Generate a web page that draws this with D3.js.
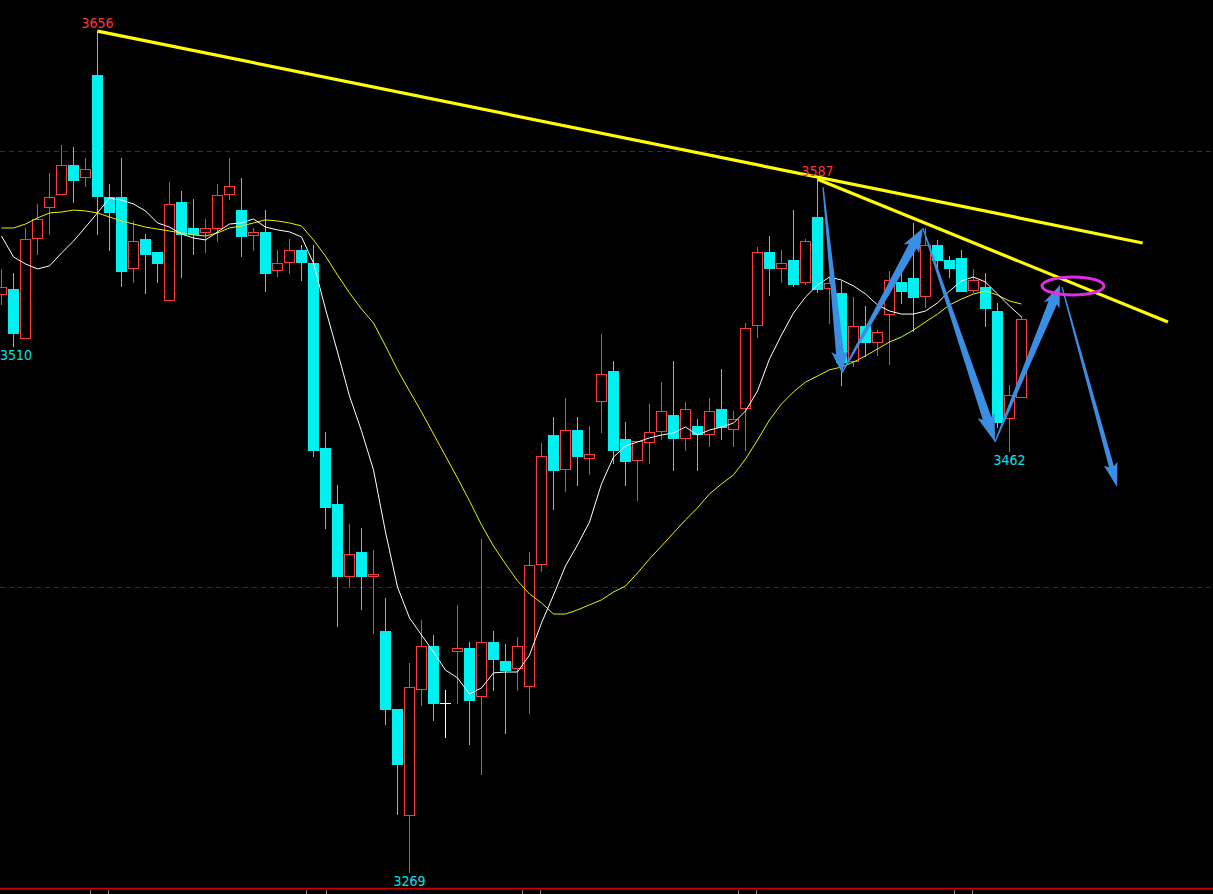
<!DOCTYPE html>
<html>
<head>
<meta charset="utf-8">
<script src="https://cdn.jsdelivr.net/npm/d3@7/dist/d3.min.js"></script>
<style>
  html, body { margin: 0; padding: 0; background: #000; overflow: hidden; }
  svg { display: block; }
</style>
</head>
<body>
<svg id="chart" width="1213" height="894"></svg>
<script>
// ---------------- DATA ----------------
const opens = [3533.9,3536.7,3513.8,3559.6,3573.9,3579.8,3593.6,3587.6,3634.9,3578.9,
  3578.9,3545.9,3559.6,3553.7,3531.2,3576.6,3564.7,3562.4,3564.2,3579.8,
  3572.9,3561.0,3562.9,3545.0,3548.6,3554.6,3548.6,3463.8,3438.1,3404.6,
  3416.1,3404.6,3379.8,3344.1,3295.0,3352.8,3373.0,3346.8,3370.2,3372.0,
  3349.6,3374.8,3366.1,3362.4,3354.1,3410.1,3469.7,3453.7,3472.0,3458.7,
  3484.9,3499.1,3467.9,3457.8,3466.1,3471.1,3478.9,3467.9,3473.9,3469.7,
  3481.7,3472.0,3481.7,3519.7,3553.7,3545.9,3550.0,3539.5,3569.7,3536.7,
  3534.9,3503.2,3519.7,3511.9,3524.8,3539.9,3541.8,3533.0,3556.9,3550.0,
  3550.9,3535.8,3537.6,3526.6,3477.1,3486.7];
const highs = [3545.9,3544.0,3564.7,3575.7,3589.9,3602.8,3601.8,3596.8,3655.0,3584.9,
  3596.8,3567.9,3561.9,3553.7,3585.8,3581.7,3578.0,3568.8,3584.9,3596.8,
  3587.6,3564.7,3572.9,3554.6,3559.6,3556.9,3556.9,3471.1,3446.8,3428.9,
  3427.1,3417.0,3395.0,3344.1,3365.2,3384.9,3378.0,3352.8,3391.8,3374.8,
  3422.0,3379.8,3373.9,3377.1,3416.1,3466.1,3478.0,3486.7,3478.0,3473.9,
  3516.1,3503.7,3475.7,3467.0,3484.0,3494.0,3503.7,3484.9,3477.1,3486.7,
  3500.0,3480.7,3521.1,3556.0,3561.0,3554.6,3572.9,3559.6,3587.0,3542.2,
  3540.4,3533.0,3528.9,3517.9,3545.0,3545.0,3567.0,3564.7,3559.2,3551.8,
  3554.6,3545.9,3544.0,3530.3,3492.7,3524.3];
const lows = [3529.4,3510.0,3513.8,3552.3,3561.5,3579.8,3576.2,3583.5,3561.5,3554.1,
  3537.6,3539.5,3534.4,3539.5,3531.2,3541.8,3552.3,3553.2,3558.3,3577.5,
  3551.4,3554.1,3535.3,3542.2,3543.6,3540.4,3459.6,3426.6,3381.7,3399.6,
  3389.5,3378.5,3336.7,3295.4,3269.0,3345.4,3338.6,3330.8,3346.4,3327.5,
  3313.8,3352.3,3332.6,3352.3,3341.8,3406.9,3435.3,3443.6,3446.3,3451.4,
  3470.7,3456.4,3446.3,3439.5,3456.4,3467.4,3453.2,3462.4,3453.2,3464.2,
  3467.4,3464.2,3462.4,3514.2,3533.5,3539.5,3537.6,3538.5,3534.9,3520.6,
  3492.2,3500.9,3505.5,3506.0,3501.8,3529.8,3517.0,3528.0,3545.4,3541.8,
  3535.3,3534.9,3519.3,3473.0,3462.0,3486.7];
const closes = [3537.6,3516.1,3559.6,3568.8,3578.9,3593.6,3586.2,3591.7,3578.9,3571.6,
  3544.5,3558.7,3552.3,3548.2,3575.7,3561.5,3561.5,3564.7,3579.8,3584.0,
  3560.6,3562.9,3543.6,3548.6,3554.6,3548.6,3462.4,3436.3,3404.6,3415.2,
  3404.6,3406.0,3343.6,3318.4,3354.1,3373.0,3346.4,3346.8,3372.0,3347.7,
  3374.8,3366.5,3361.5,3373.0,3410.1,3460.1,3453.2,3472.0,3459.6,3461.0,
  3497.7,3462.4,3457.4,3467.0,3471.1,3480.7,3467.9,3481.7,3469.7,3480.7,
  3473.0,3477.1,3518.8,3553.7,3545.9,3548.6,3538.5,3558.7,3536.2,3539.5,
  3502.8,3519.7,3511.9,3517.0,3540.8,3535.3,3532.6,3556.9,3549.6,3545.9,
  3535.3,3540.8,3527.5,3475.2,3488.1,3522.9];
// fast moving average (white) and slow moving average (yellow)
const maFast = [3561.0,3551.4,3548.2,3545.9,3547.3,3553.2,3558.7,3565.1,3571.6,3578.4,
  3577.5,3575.7,3572.5,3567.0,3565.1,3561.9,3560.1,3559.2,3562.9,3566.5,
  3567.0,3568.8,3565.1,3563.8,3562.9,3560.6,3548.6,3527.5,3507.8,3487.6,
  3471.6,3453.7,3425.2,3400.0,3385.8,3378.0,3370.2,3361.9,3358.3,3350.9,
  3353.7,3360.6,3361.0,3361.0,3368.8,3383.5,3396.3,3409.7,3419.3,3429.8,
  3447.3,3459.6,3464.7,3466.5,3468.4,3469.7,3470.7,3473.4,3469.7,3472.0,
  3473.4,3475.2,3480.7,3489.9,3504.6,3515.6,3525.7,3533.0,3538.5,3542.2,
  3540.8,3538.1,3534.4,3529.4,3526.6,3525.2,3525.2,3526.6,3530.3,3535.8,
  3540.4,3542.2,3539.9,3534.4,3528.9,3523.9];
const maSlow = [3564.7,3564.7,3566.5,3569.3,3571.6,3572.0,3572.9,3572.5,3571.6,3569.7,
  3567.9,3566.5,3565.1,3564.2,3563.3,3562.4,3561.5,3561.0,3562.4,3564.7,
  3565.6,3567.0,3568.4,3567.9,3567.0,3565.6,3559.2,3551.8,3543.1,3534.9,
  3527.5,3521.1,3510.6,3499.6,3489.9,3480.3,3470.2,3460.1,3450.0,3439.5,
  3428.5,3418.8,3410.6,3402.8,3396.8,3392.7,3387.6,3387.6,3389.5,3391.8,
  3394.1,3397.7,3400.5,3406.4,3412.9,3418.8,3424.8,3430.8,3436.3,3442.7,
  3447.3,3451.4,3458.7,3467.4,3476.6,3484.0,3489.5,3494.0,3496.8,3499.6,
  3500.9,3503.2,3506.0,3509.2,3512.4,3514.7,3517.9,3521.6,3525.2,3529.4,
  3532.1,3534.4,3535.8,3533.9,3531.2,3529.8];
// price grid levels
const gridLevels = [3600, 3400];
// extreme-value labels: [candle index, price, which side]
const labelIdx = [8, 68, 1, 34, 84];
const labelVal = [3656, 3587, 3510, 3269, 3462];
const labelPos = ["above", "above", "below", "below", "below"];
// trend lines: start and end [index, price]
const trendStart = [[8, 3655.0], [68, 3587.0]];
const trendEnd   = [[95.1, 3557.8], [97.2, 3521.6]];
// arrows: tail and tip [index, price]
const arrowTail = [[68.46, 3583.5], [70.04, 3498.2], [76.79, 3564.7], [82.79, 3466.5], [88.38, 3537.6]];
const arrowTip  = [[70.04, 3498.2], [76.79, 3564.7], [82.79, 3466.5], [88.21, 3538.5], [92.96, 3445.9]];
// highlighted spot (ellipse centre) [index, price]
const circleAt = [89.29, 3538.1];
// time-axis tick positions (candle index)
const timeTicks = [7.4, 8.9, 25.4, 27.0, 43.4, 44.9, 61.4, 62.9, 79.4, 80.9];

// ---------------- STYLES ----------------
const RED = "#ff3c3c", CYAN = "#00f0f0";
const arrowStyle = [ // head length, head width, shaft width
  [19, 17, 8], [21, 18, 9], [25, 18, 9], [19, 17, 9], [21, 14, 5]
];

// ---------------- SCALES ----------------
const W = 1213, H = 894;
const x = d3.scaleLinear().domain([0, 100]).range([1.5, 1201.5]);
const y = d3.scaleLinear().domain([3400, 3600]).range([587, 151]);
const svg = d3.select("#chart");
svg.append("rect").attr("width", W).attr("height", H).attr("fill", "#000");

// grid
svg.append("g").selectAll("line").data(gridLevels).join("line")
  .attr("x1", 0).attr("x2", W)
  .attr("y1", d => Math.round(y(d)) + 0.5).attr("y2", d => Math.round(y(d)) + 0.5)
  .attr("stroke", "#a00000").attr("stroke-width", 1).attr("stroke-dasharray", "5,4");

// bottom border + ticks
svg.append("line").attr("x1", 0).attr("x2", W).attr("y1", 888.5).attr("y2", 888.5)
  .attr("stroke", "#d00000").attr("stroke-width", 1.5);
svg.append("g").selectAll("line").data(timeTicks).join("line")
  .attr("x1", d => Math.round(x(d)) + 0.5).attr("x2", d => Math.round(x(d)) + 0.5)
  .attr("y1", 890).attr("y2", 894).attr("stroke", "#888").attr("stroke-width", 1);

// candles
const candles = d3.range(opens.length).map(i => ({
  i, o: opens[i], h: highs[i], l: lows[i], c: closes[i]
}));
const cg = svg.append("g");
candles.forEach(d => {
  const cx = x(d.i);
  const yo = Math.round(y(d.o)), yc = Math.round(y(d.c));
  const yh = Math.round(y(d.h)), yl = Math.round(y(d.l));
  const top = Math.min(yo, yc), bot = Math.max(yo, yc);
  if (d.c > d.o) {
    if (yh < top) cg.append("line").attr("x1", cx).attr("x2", cx).attr("y1", yh).attr("y2", top).attr("stroke", RED);
    if (yl > bot) cg.append("line").attr("x1", cx).attr("x2", cx).attr("y1", bot).attr("y2", yl).attr("stroke", RED);
    cg.append("rect").attr("x", cx - 5).attr("y", top + 0.5).attr("width", 10).attr("height", Math.max(bot - top - 1, 1))
      .attr("fill", "#000").attr("stroke", RED).attr("stroke-width", 1);
  } else if (d.c < d.o) {
    cg.append("line").attr("x1", cx).attr("x2", cx).attr("y1", yh).attr("y2", yl).attr("stroke", CYAN);
    cg.append("rect").attr("x", cx - 5.5).attr("y", top).attr("width", 11).attr("height", Math.max(bot - top, 1))
      .attr("fill", CYAN);
  } else {
    cg.append("line").attr("x1", cx).attr("x2", cx).attr("y1", yh).attr("y2", yl).attr("stroke", "#fff");
    cg.append("line").attr("x1", cx - 5.5).attr("x2", cx + 5.5).attr("y1", yo + 0.5).attr("y2", yo + 0.5).attr("stroke", "#fff");
  }
});

// moving averages
const line = d3.line().x((d, i) => x(i)).y(d => y(d));
svg.append("path").attr("d", line(maSlow)).attr("fill", "none").attr("stroke", "#f0f000").attr("stroke-width", 1);
svg.append("path").attr("d", line(maFast)).attr("fill", "none").attr("stroke", "#ffffff").attr("stroke-width", 1);

// trend lines
svg.append("g").selectAll("line").data(d3.range(trendStart.length)).join("line")
  .attr("x1", k => x(trendStart[k][0])).attr("y1", k => y(trendStart[k][1]))
  .attr("x2", k => x(trendEnd[k][0])).attr("y2", k => y(trendEnd[k][1]))
  .attr("stroke", "#ffff00").attr("stroke-width", 3.2);

// arrows
function arrowPath(k) {
  const tx = x(arrowTail[k][0]), ty = y(arrowTail[k][1]);
  const px = x(arrowTip[k][0]), py = y(arrowTip[k][1]);
  const [hl, hw, sw] = arrowStyle[k];
  const L = Math.hypot(px - tx, py - ty);
  const ux = (px - tx) / L, uy = (py - ty) / L;
  const nx = -uy, ny = ux;
  const bx = px - ux * hl, by = py - uy * hl;
  const pts = [
    [tx + nx * 0.6, ty + ny * 0.6],
    [bx + nx * sw / 2, by + ny * sw / 2],
    [bx + nx * hw / 2 - ux * 3, by + ny * hw / 2 - uy * 3],
    [px, py],
    [bx - nx * hw / 2 - ux * 3, by - ny * hw / 2 - uy * 3],
    [bx - nx * sw / 2, by - ny * sw / 2],
    [tx - nx * 0.6, ty - ny * 0.6]
  ];
  return "M" + pts.map(p => p.join(",")).join("L") + "Z";
}
svg.append("g").selectAll("path").data(d3.range(arrowTail.length)).join("path")
  .attr("d", k => arrowPath(k)).attr("fill", "#3b8fe3");

// ellipse
svg.append("ellipse").attr("cx", x(circleAt[0])).attr("cy", y(circleAt[1]))
  .attr("rx", 31).attr("ry", 9).attr("fill", "none").attr("stroke", "#e02ce0").attr("stroke-width", 3);

// labels
svg.append("g").selectAll("text").data(d3.range(labelIdx.length)).join("text")
  .attr("x", k => labelIdx[k] === 1 ? 0 : x(labelIdx[k]))
  .attr("y", k => labelPos[k] === "above" ? y(highs[labelIdx[k]]) - 3 : y(lows[labelIdx[k]]) + 13)
  .attr("text-anchor", k => labelIdx[k] === 1 ? "start" : "middle")
  .attr("fill", k => labelPos[k] === "above" ? "#ff3636" : "#00e6e6")
  .attr("font-family", "'Liberation Sans Narrow', 'DejaVu Sans Condensed', 'Liberation Sans', sans-serif")
  .attr("font-size", 14)
  .text(k => labelVal[k]);
</script>
</body>
</html>
